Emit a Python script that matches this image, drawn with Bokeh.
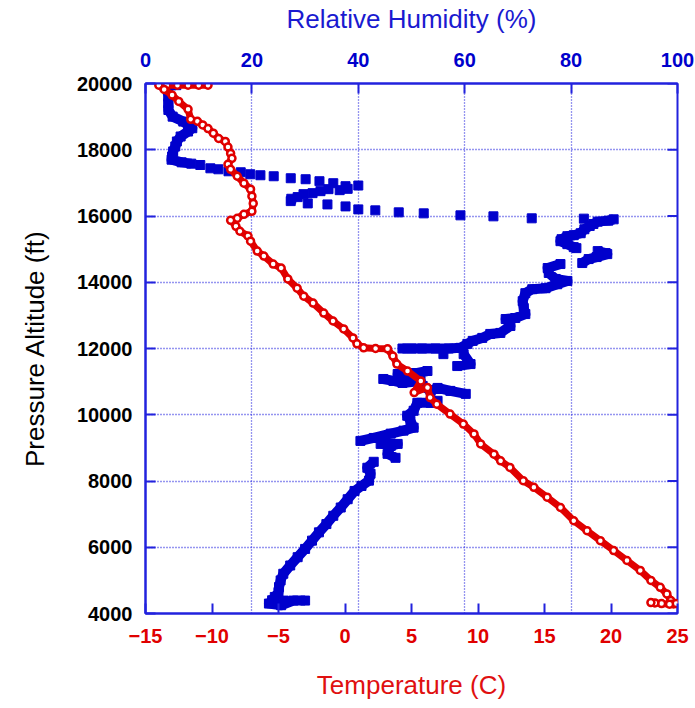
import numpy as np
from bokeh.plotting import figure
from bokeh.models import Range1d, LinearAxis, FixedTicker
from bokeh.embed import file_html
from bokeh.resources import INLINE

# ---- sounding data -------------------------------------------------------
# Relative humidity (%) vs pressure altitude (ft), dry layer above the cloud
rh_upper = [5.8, 4.5, 3.6, 4.2, 4.3, 4.3, 4.3, 5.1, 7.1, 8.8, 8.0, 6.6, 5.9, 5.6,
            5.2, 5.0, 4.9, 6.8, 8.6]
alt_rh_upper = [19950, 19960, 19920, 19800, 19600, 19400, 19200, 19000, 18850, 18650,
                18550, 18400, 18250, 18100, 17950, 17800, 17700, 17620, 17580]

# sparse readings through the moist transition
rh_sparse = [10.3, 12.2, 13.7, 15.6, 17.9, 19.7, 21.6, 24.1, 27.3, 30.1, 32.7, 35.3,
             37.6, 40.0, 38.0, 36.5, 34.4, 32.9, 31.4, 29.7, 28.6, 27.4, 27.3, 30.5,
             34.2, 37.6, 40.0, 43.2, 47.6, 52.3, 59.2, 65.4, 72.6]
alt_rh_sparse = [17540, 17440, 17410, 17350, 17320, 17260, 17230, 17200, 17140, 17110,
                 17050, 16990, 16900, 16920, 16820, 16780, 16810, 16750, 16690, 16660,
                 16570, 16520, 16450, 16380, 16350, 16290, 16200, 16170, 16110, 16080,
                 16020, 15990, 15930]

# moist layer and below
rh_lower = [82.4, 88.0, 87.0, 85.0, 84.2, 83.5, 82.5, 81.8, 80.5, 79.3, 78.2, 78.0,
            79.3, 80.5, 81.0, 85.0, 86.5, 86.8, 84.8, 83.3, 82.1, 78.0, 75.6, 75.8,
            77.1, 79.3, 77.4, 75.2, 72.7, 71.4, 70.9, 71.1, 71.4, 69.5, 67.7, 68.6,
            66.7, 64.8, 63.3, 61.5, 60.5, 59.2, 57.0, 54.5, 52.0, 50.0, 48.3,
            56.0, 59.8, 61.1, 58.6, 53.0, 51.1, 49.2, 47.4, 49.4, 44.7, 46.6, 48.3,
            51.7, 52.1, 53.6, 54.9, 57.3, 60.2, 54.9, 53.6, 51.1, 50.4, 49.2, 49.8,
            50.4, 48.5, 46.1, 42.9, 40.4, 44.2, 47.4, 46.1, 45.5, 47.0, 42.9, 41.7,
            42.3, 42.0, 40.6, 39.3, 38.0, 36.7, 35.3, 34.0, 32.6, 31.3, 30.0, 28.6,
            27.2, 25.9, 25.4, 25.1, 25.0, 24.3, 23.8, 23.2, 25.5, 27.8, 30.0, 26.0]
alt_rh_lower = [15920, 15900, 15860, 15830, 15760, 15700, 15600, 15480, 15420, 15390,
                15300, 15240, 15150, 15060, 15030, 14940, 14880, 14850, 14760, 14700,
                14580, 14550, 14430, 14280, 14100, 14040, 13940, 13820, 13790, 13670,
                13430, 13220, 13040, 12920, 12890, 12680, 12470, 12440, 12320, 12230,
                12140, 12020, 12000, 12000, 12000, 12000, 12000,
                11830, 11830, 11530, 11470, 11320, 11260, 11260, 11230, 11170, 11080,
                11020, 10960, 11020, 10870, 10720, 10810, 10720, 10630, 10420, 10360,
                10360, 10120, 9970, 9820, 9610, 9520, 9430, 9300, 9210, 9120, 9120,
                9060, 8820, 8700, 8580, 8400, 8220, 8010, 7850, 7700, 7450, 7200, 6950,
                6700, 6450, 6200, 5950, 5700, 5450, 5200, 5000, 4800, 4650, 4500, 4400,
                4300, 4250, 4390, 4390, 4390]

# Temperature (C) vs pressure altitude (ft)
temp = [-10.3, -11.0, -11.8, -12.6, -13.4, -14.0, -13.6, -13.0, -12.5, -11.8, -11.6,
        -11.1, -10.7, -10.3, -9.9, -9.5, -9.0, -8.8, -8.6, -8.5, -8.8, -8.6, -8.1,
        -7.6, -7.1, -7.0, -6.9, -7.0, -7.6, -8.1, -8.6, -8.2, -7.9, -7.3, -7.1, -6.6,
        -6.1, -5.4, -4.8, -4.3, -3.6, -3.1, -2.4, -1.6, -0.9, -0.1, 0.6, 0.9, 1.4,
        2.3, 3.2, 3.6, 3.9, 4.7, 5.7, 5.2, 6.2, 6.4, 6.9, 7.9, 8.9, 9.7, 10.2, 11.2,
        11.7, 12.4, 13.4, 14.2, 15.2, 16.2, 17.2, 18.2, 19.2, 20.2, 21.2, 22.2, 23.0,
        23.7, 24.2, 24.5, 24.7, 24.9, 24.4, 23.8, 23.3, 23.0]
alt_temp = [19950, 19950, 19950, 19950, 19950, 19950, 19820, 19650, 19460, 19220,
            18920, 18860, 18750, 18640, 18500, 18340, 18250, 18080, 17890, 17740,
            17560, 17410, 17200, 16990, 16810, 16600, 16380, 16140, 16050, 15930,
            15870, 15690, 15540, 15400, 15240, 14940, 14790, 14550, 14430, 14100,
            13820, 13580, 13370, 13070, 12830, 12590, 12320, 12140, 12020, 12000,
            11990, 11770, 11530, 11320, 11020, 10670, 10820, 10520, 10320, 10020,
            9720, 9420, 9120, 8810, 8610, 8410, 8010, 7810, 7510, 7200, 6800, 6500,
            6200, 5900, 5600, 5300, 5000, 4790, 4590, 4390, 4290, 4300, 4280, 4300,
            4320, 4330]

alt_ticks = [4000, 6000, 8000, 10000, 12000, 14000, 16000, 18000, 20000]
rh_ticks = [0, 20, 40, 60, 80, 100]
temp_ticks = [-15, -10, -5, 0, 5, 10, 15, 20, 25]

# ---- styling ---------------------------------------------------------------
BLUE = "#0000cc"
FRAME = "#2222dd"
RED = "#e00000"
FONT = "Liberation Sans"

W, H = 695, 708
LEFT, RIGHT, TOP, BOTTOM = 145, 18, 82, 95
frame_w = W - LEFT - RIGHT
frame_h = H - TOP - BOTTOM
px_alt = frame_h / 16000.0


def banded(xs, ys, px_x, gap):
    """Join neighbouring readings into a band, leaving gaps between distant ones."""
    bx, by = [xs[0]], [ys[0]]
    for i in range(1, len(xs)):
        d = np.hypot((xs[i] - xs[i - 1]) * px_x, (ys[i] - ys[i - 1]) * px_alt)
        if d > gap:
            bx.append(np.nan)
            by.append(np.nan)
        bx.append(xs[i])
        by.append(ys[i])
    return np.array(bx, dtype=float), np.array(by, dtype=float)


p = figure(width=W, height=H, output_backend="svg", toolbar_location=None,
           x_range=Range1d(0, 100), y_range=Range1d(4000, 20000),
           x_axis_location="above",
           min_border_left=LEFT, min_border_right=RIGHT,
           min_border_top=TOP, min_border_bottom=BOTTOM)
p.extra_x_ranges = {"temp": Range1d(-15, 25)}
p.background_fill_color = "white"
p.border_fill_color = "white"
p.outline_line_color = FRAME
p.outline_line_width = 2

# dotted grid following the humidity and altitude ticks
p.xgrid.ticker = FixedTicker(ticks=rh_ticks)
p.ygrid.ticker = FixedTicker(ticks=alt_ticks)
for g in (p.xgrid, p.ygrid):
    g.grid_line_color = "#2a2ae0"
    g.grid_line_dash = "1 2"
    g.grid_line_width = 1.3


def style_axis(ax, label_color, title_color, label_standoff, title_standoff):
    ax.axis_line_color = FRAME
    ax.axis_line_width = 2
    ax.major_tick_line_color = FRAME
    ax.major_tick_line_width = 2
    ax.major_tick_in = 10
    ax.major_tick_out = 0
    ax.minor_tick_line_color = None
    ax.major_label_text_font = FONT
    ax.major_label_text_font_style = "bold"
    ax.major_label_text_font_size = "20px"
    ax.major_label_text_color = label_color
    ax.major_label_standoff = label_standoff
    ax.axis_label_text_font = FONT
    ax.axis_label_text_font_style = "normal"
    ax.axis_label_text_font_size = "26px"
    ax.axis_label_text_color = title_color
    ax.axis_label_standoff = title_standoff


top_ax = p.xaxis[0]
top_ax.ticker = FixedTicker(ticks=rh_ticks)
top_ax.axis_label = "Relative Humidity (%)"
style_axis(top_ax, BLUE, "#1a1ad0", 17, 16)

left_ax = p.yaxis[0]
left_ax.ticker = FixedTicker(ticks=alt_ticks)
left_ax.axis_label = "Pressure Altitude (ft)"
style_axis(left_ax, "#000000", "#000000", 13, 24)

bottom_ax = LinearAxis(x_range_name="temp", axis_label="Temperature (C)",
                       ticker=FixedTicker(ticks=temp_ticks))
style_axis(bottom_ax, RED, "#e01010", 15, 24)
p.add_layout(bottom_ax, "below")

# inward tick marks along the right edge of the frame
p.scatter([100] * len(alt_ticks), alt_ticks, marker="dash", size=20,
          line_color=FRAME, line_width=2)

# humidity profile
px_rh = frame_w / 100.0
for xs, ys in ((rh_upper, alt_rh_upper), (rh_lower, alt_rh_lower)):
    bx, by = banded(xs, ys, px_rh, 20.0)
    p.line(bx, by, line_color=BLUE, line_width=10, line_join="round")
for xs, ys in ((rh_upper, alt_rh_upper), (rh_sparse, alt_rh_sparse), (rh_lower, alt_rh_lower)):
    p.scatter(xs, ys, marker="square", size=9, fill_color=BLUE, line_color=BLUE)

# temperature profile
px_t = frame_w / 40.0
tx, ty = banded(temp, alt_temp, px_t, 26.0)
p.line(tx, ty, line_color=RED, line_width=7, line_join="round", x_range_name="temp")
p.scatter(temp, alt_temp, marker="circle", size=7, line_width=2.5, line_color=RED,
          fill_color="white", x_range_name="temp")

open("out.html", "w").write(file_html(p, INLINE))
